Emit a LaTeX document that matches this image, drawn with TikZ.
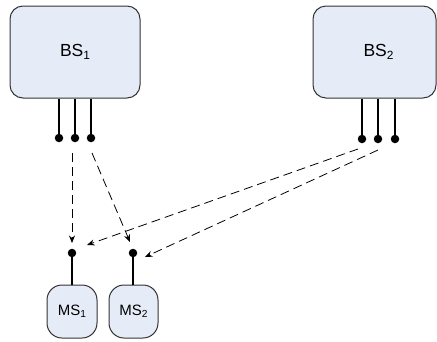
\documentclass[tikz,border=0pt]{standalone}
\usepackage{fontspec}
\setmainfont{Liberation Sans}
\usetikzlibrary{arrows.meta}
\definecolor{boxfill}{HTML}{E6ECF7}
\definecolor{boxline}{HTML}{333333}
\newcommand{\subidx}[1]{\raisebox{-0.28ex}{\scalebox{0.68}{#1}}}
\begin{document}
\begin{tikzpicture}[x=1pt,y=-1pt,
  box/.style={draw=boxline, fill=boxfill, line width=1pt, inner sep=0pt},
  bsbox/.style={box, rounded corners=13pt, minimum height=92pt, font=\fontsize{17.5}{19}\selectfont},
  msbox/.style={box, rounded corners=15pt, minimum height=53pt, font=\fontsize{15}{17}\selectfont},
  dot/.style={circle, fill=black, inner sep=0pt, minimum size=8.5pt},
  ant/.style={line width=2.8pt},
  msant/.style={line width=2.3pt},
  link/.style={dash pattern=on 9pt off 5pt, line width=0.8pt, -{Stealth[length=7.5pt,width=6pt]}}]
\useasboundingbox (0,0) rectangle (437,341);
% base stations
\node[bsbox, minimum width=130pt] (bs1) at (75,52) {BS\subidx{1}};
\node[bsbox, minimum width=123pt] (bs2) at (374.5,52) {\hspace*{8pt}BS\subidx{2}};
% BS antennas
\node[dot] (a11) at (59,138) {};
\node[dot] (a12) at (75,138) {};
\node[dot] (a13) at (91,138) {};
\node[dot] (a21) at (362,139) {};
\node[dot] (a22) at (378,139) {};
\node[dot] (a23) at (395,139) {};
\foreach \a in {a11,a12,a13}{\draw[ant] (\a.center) -- (\a.center |- bs1.south);}
\foreach \a in {a21,a22,a23}{\draw[ant] (\a.center) -- (\a.center |- bs2.south);}
% mobile stations
\node[msbox, minimum width=50pt] (ms1) at (72,311.5) {MS\subidx{1}};
\node[msbox, minimum width=49pt] (ms2) at (133.5,311.5) {MS\subidx{2}};
\node[dot] (m1) at (72,253) {};
\node[dot] (m2) at (133,253) {};
\draw[msant] (m1.center) -- (m1.center |- ms1.north);
\draw[msant] (m2.center) -- (m2.center |- ms2.north);
% links
\draw[link] ([xshift=-3pt,yshift=-15pt]a12.center) -- ([yshift=10pt]m1.center);
\draw[link] ([xshift=1pt,yshift=-15pt]a13.center) -- ([xshift=-3pt,yshift=11pt]m2.center);
\draw[link] ([xshift=-4pt,yshift=-10pt]a21.center) -- ([xshift=15pt,yshift=8pt]m1.center);
\draw[link] ([yshift=-11pt]a22.center) -- ([xshift=12pt,yshift=-4pt]m2.center);
\end{tikzpicture}
\end{document}
